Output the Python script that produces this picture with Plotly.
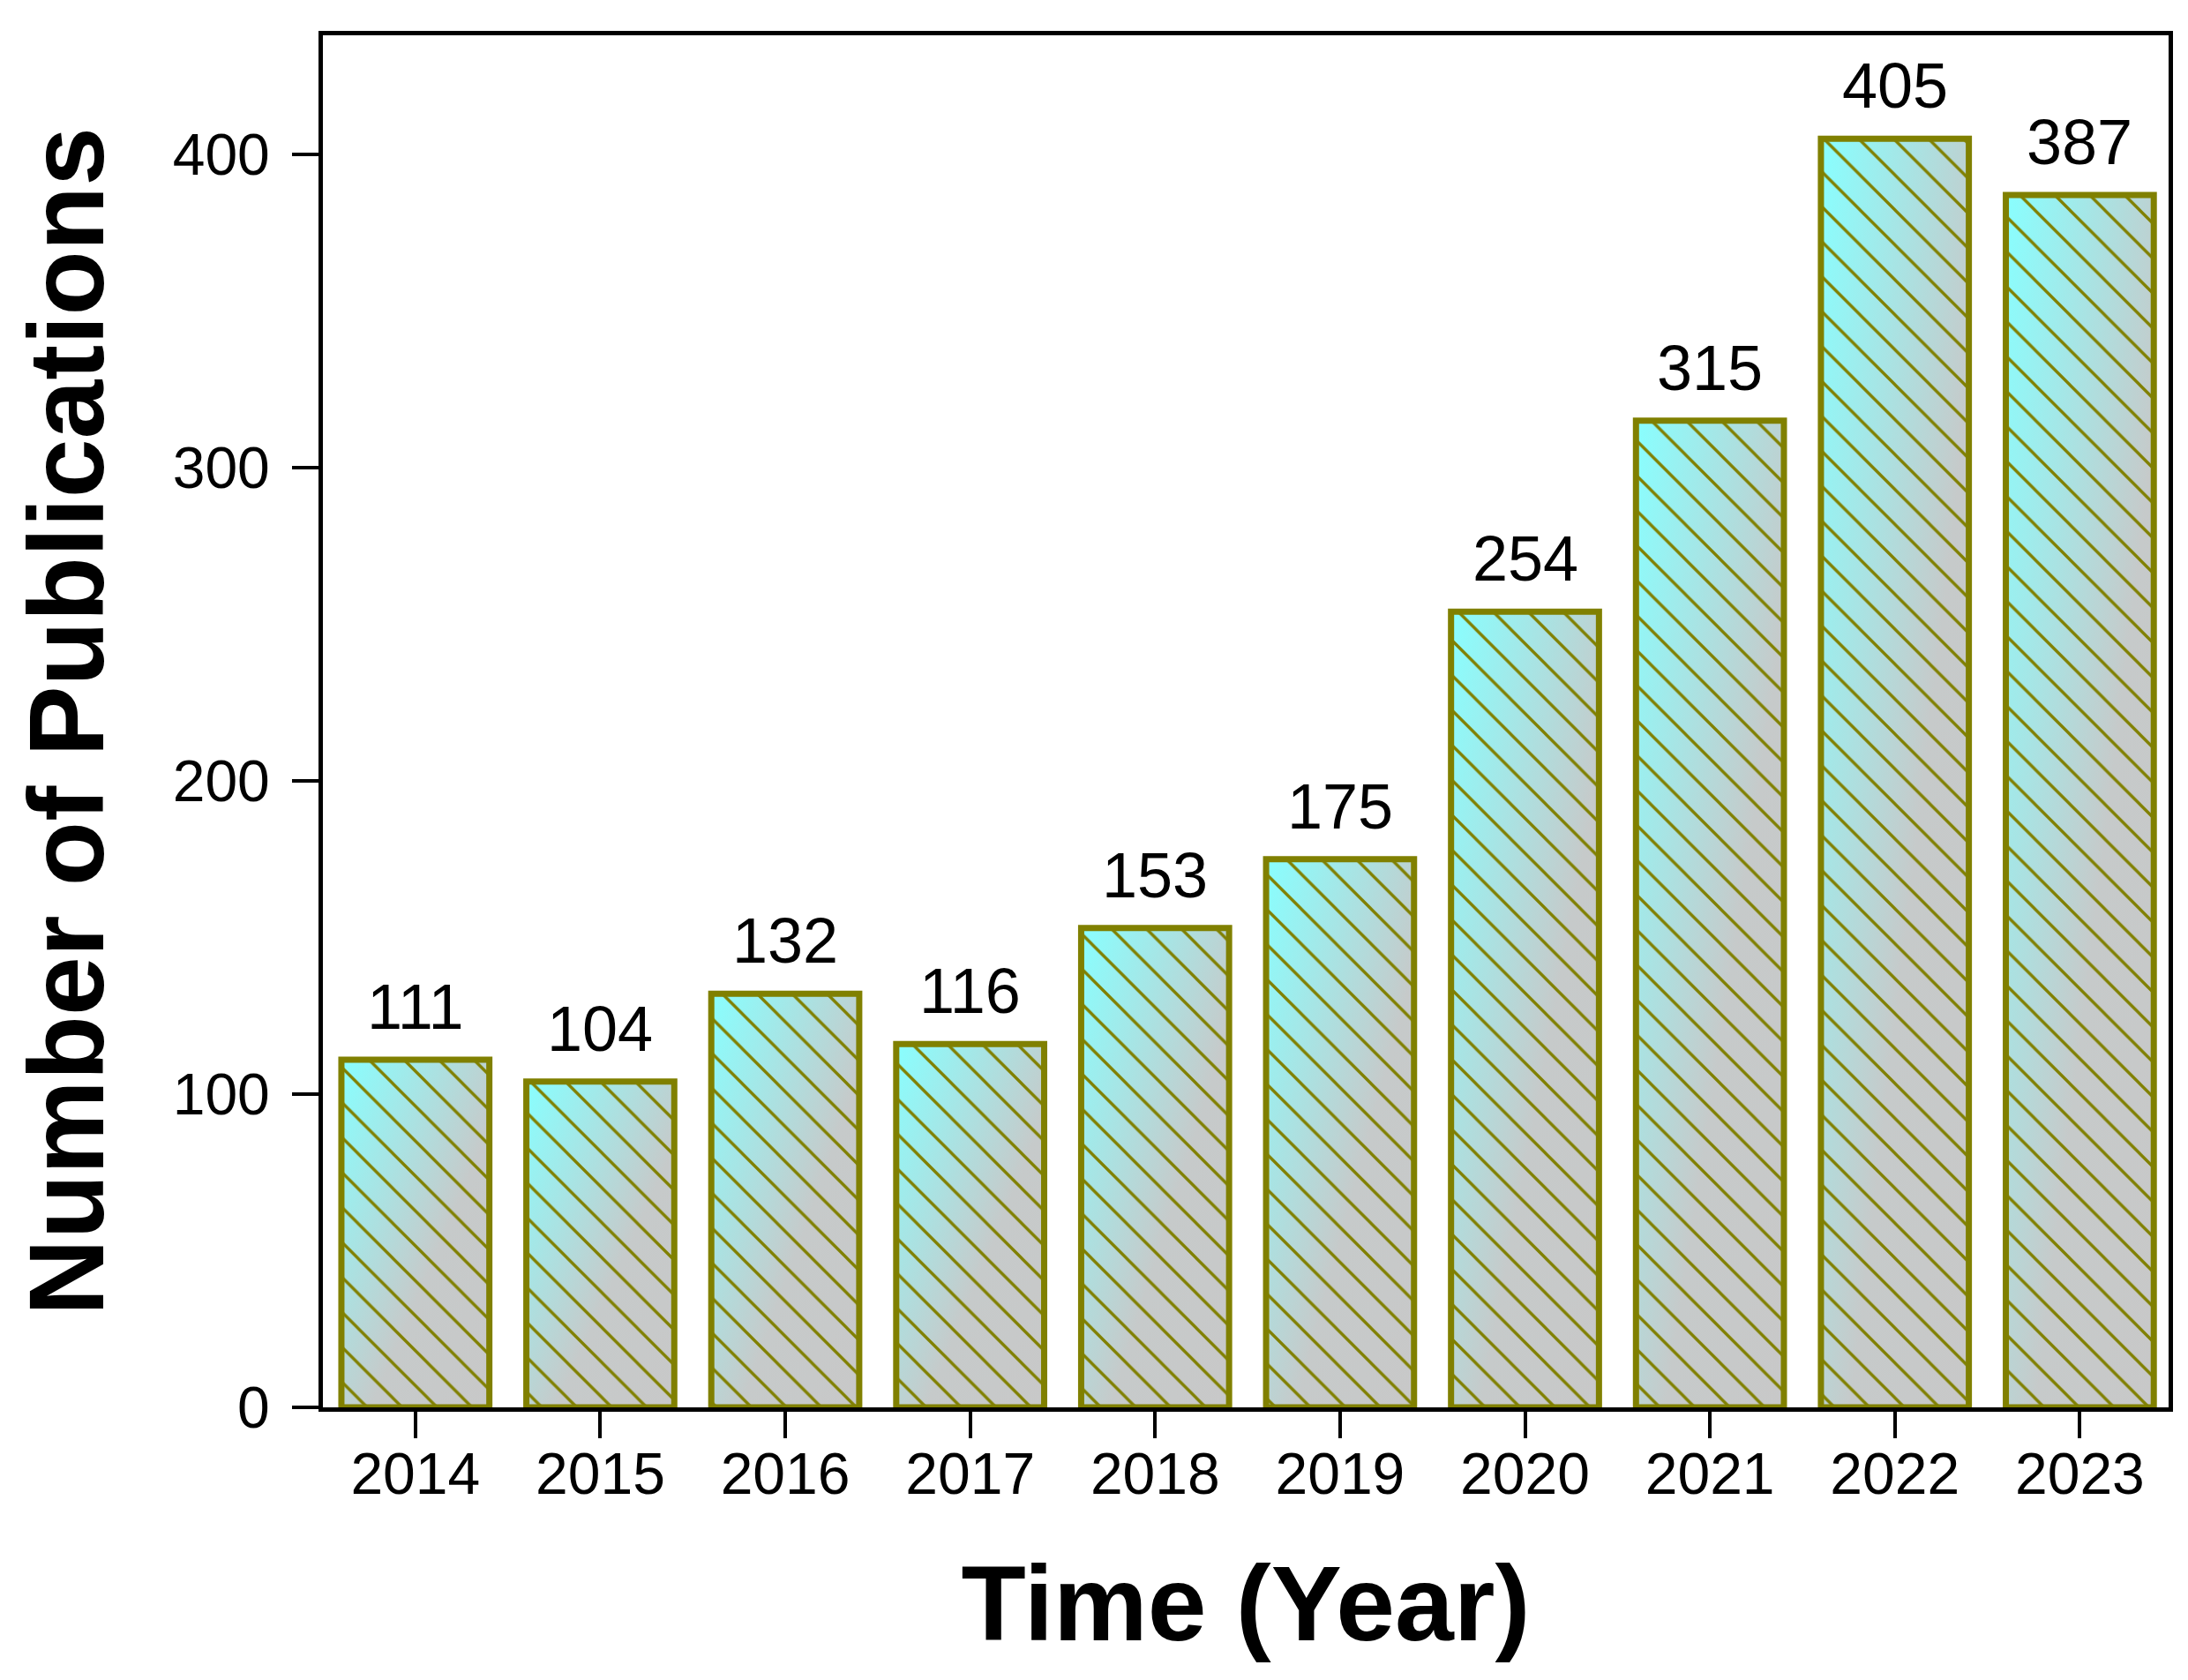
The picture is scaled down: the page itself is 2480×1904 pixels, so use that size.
import base64
import plotly.graph_objects as go

years = [2014, 2015, 2016, 2017, 2018, 2019, 2020, 2021, 2022, 2023]
publications = [111, 104, 132, 116, 153, 175, 254, 315, 405, 387]
year_labels = [str(y) for y in years]
y_ticks = [0, 100, 200, 300, 400]

BAR_W = 0.8
OLIVE = "#808000"
FONT = "Liberation Sans, Arial, sans-serif"

grad_svg = (
    '<svg xmlns="http://www.w3.org/2000/svg" width="100" height="100" preserveAspectRatio="none">'
    '<defs><linearGradient id="g" x1="0" y1="0" x2="1" y2="1">'
    '<stop offset="0" stop-color="#88FFFF"/>'
    '<stop offset="0.6" stop-color="#C6CACA"/>'
    '<stop offset="1" stop-color="#C8C8C8"/>'
    '</linearGradient></defs>'
    '<rect x="0" y="0" width="100" height="100" fill="url(#g)"/></svg>'
)
grad_uri = "data:image/svg+xml;base64," + base64.b64encode(grad_svg.encode()).decode()

fig = go.Figure()
fig.add_trace(go.Bar(
    x=years, y=publications, width=BAR_W,
    marker=dict(
        color="rgba(0,0,0,0)",
        line=dict(color=OLIVE, width=7),
        pattern=dict(shape="\\", fgcolor=OLIVE, bgcolor="rgba(0,0,0,0)",
                     size=28, solidity=0.12, fillmode="replace"),
    ),
    showlegend=False, hoverinfo="x+y",
))

images = []
for yr, v in zip(years, publications):
    images.append(dict(
        source=grad_uri, xref="x", yref="y",
        x=yr - BAR_W / 2, y=v, sizex=BAR_W, sizey=v,
        xanchor="left", yanchor="top", sizing="stretch", layer="below",
    ))

annotations = []
for yr, v in zip(years, publications):
    annotations.append(dict(
        x=yr, y=v, xref="x", yref="y", text=str(v), showarrow=False,
        yanchor="bottom", yshift=18, font=dict(size=72, color="black", family=FONT),
    ))

fig.update_layout(
    width=2480, height=1904,
    margin=dict(l=358, r=30, t=32, b=317),
    paper_bgcolor="white", plot_bgcolor="white",
    images=images, annotations=annotations,
    font=dict(family=FONT, color="black"),
    bargap=0.2,
)
fig.update_xaxes(
    range=[2013.5, 2023.48], tickvals=years, ticktext=year_labels,
    showline=True, linecolor="black", linewidth=5, mirror=True,
    ticks="outside", ticklen=30, tickwidth=4, tickcolor="black",
    tickfont=dict(size=66, family=FONT, color="black"),
    ticklabelstandoff=-16,
    showgrid=False, zeroline=False,
    title=dict(text="<b>Time (Year)</b>", font=dict(size=120, family=FONT, color="black"), standoff=70),
)
fig.update_yaxes(
    range=[0, 438], tickvals=y_ticks, ticktext=[str(t) for t in y_ticks],
    showline=True, linecolor="black", linewidth=5, mirror=True,
    ticks="outside", ticklen=30, tickwidth=4, tickcolor="black",
    tickfont=dict(size=66, family=FONT, color="black"),
    ticklabelstandoff=12,
    showgrid=False, zeroline=False,
    title=dict(text="<b>Number of Publications</b>", font=dict(size=120, family=FONT, color="black"), standoff=42),
)

fig.write_html("out.html")
